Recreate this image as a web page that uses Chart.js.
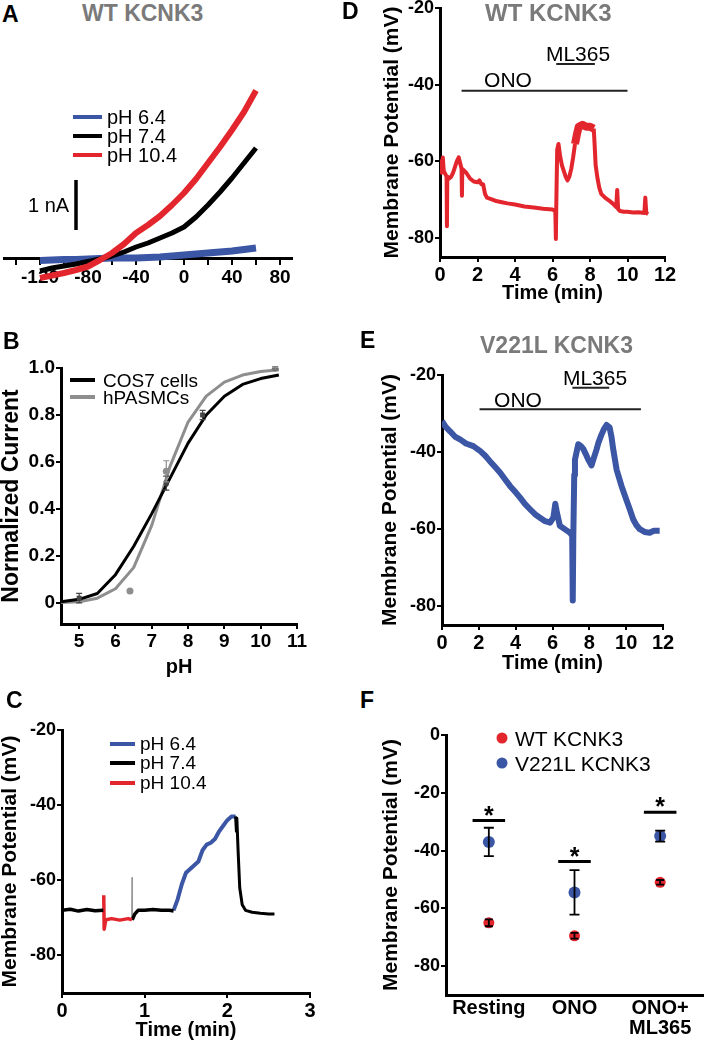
<!DOCTYPE html>
<html><head><meta charset="utf-8">
<script src="https://cdn.jsdelivr.net/npm/chart.js@4.4.1/dist/chart.umd.min.js"></script>
<style>
html,body{margin:0;padding:0;background:#fff;}
body{width:709px;height:1042px;position:relative;overflow:hidden;font-family:'Liberation Sans',Arial,Helvetica,sans-serif;}
canvas{position:absolute;}
.t{position:absolute;white-space:nowrap;line-height:1;color:#000;transform:translateY(-50%);}
.c{transform:translate(-50%,-50%);}
.sw{position:absolute;height:4px;transform:translateY(-50%);}
.dot{position:absolute;border-radius:50%;transform:translate(-50%,-50%);}
</style></head><body>
<canvas id="cA" width="305" height="265" style="left:0;top:40px"></canvas>
<canvas id="cB" width="315" height="330" style="left:0;top:350px"></canvas>
<canvas id="cC" width="325" height="330" style="left:0;top:712px"></canvas>
<canvas id="cD" width="340" height="317" style="left:340px;top:-12px"></canvas>
<canvas id="cE" width="340" height="330" style="left:340px;top:350px"></canvas>
<canvas id="cF" width="369" height="327" style="left:340px;top:715px"></canvas>
<script>
// ---------- DATA ----------
// Panel A: I-V curves (mV, nA)
const ivVoltage = [-120,-110,-100,-90,-80,-70,-60,-50,-40,-30,-20,-10,0,10,20,30,40,50,60];
const ivPH64  = [-0.05,-0.04,-0.03,-0.03,-0.02,-0.01,0,0,0,0.01,0.02,0.04,0.06,0.08,0.1,0.12,0.14,0.17,0.2];
const ivPH74  = [-0.26,-0.2,-0.16,-0.12,-0.07,-0.02,0.04,0.12,0.22,0.3,0.4,0.5,0.62,0.82,1.06,1.32,1.6,1.9,2.2];
const ivPH104 = [-0.4,-0.35,-0.3,-0.24,-0.17,-0.04,0.1,0.28,0.5,0.66,0.84,1.06,1.3,1.58,1.9,2.22,2.56,2.92,3.35];
const ivTicks = [-140,-120,-100,-80,-60,-40,-20,0,20,40,60,80];
const ivLabelStep = 40;
const scaleBarV = -90, scaleBarI = [0.56, 1.56];

// Panel B: pH dependence
const phFit = [4.5,5,5.5,6,6.5,7,7.5,8,8.5,9,9.5,10,10.5];
const fitCOS7  = [0.005,0.015,0.04,0.12,0.24,0.38,0.53,0.68,0.8,0.88,0.93,0.955,0.97];
const fitHPASMC= [0.002,0.005,0.02,0.06,0.15,0.33,0.58,0.77,0.88,0.94,0.97,0.985,0.993];
const cosPH = [5,7.4,8.4,10.4], cosMean = [0.02,0.51,0.8,1.0], cosErr = [0.02,0.03,0.02,0.005];
const hpPH = [6.4,7.4,10.4], hpMean = [0.05,0.56,1.0], hpErr = [0.005,0.045,0.005];
const phTicks = [5,6,7,8,9,10,11];
const normTicks = [0,0.2,0.4,0.6,0.8,1.0];

// Panel C: membrane potential vs time (min, mV)
const cBlack1 = [[0,-68],[0.1,-67.7],[0.2,-68.2],[0.3,-67.8],[0.4,-68.1],[0.5,-68]];
const cRed    = [[0.505,-64],[0.51,-73],[0.53,-70.5],[0.6,-70.2],[0.7,-70.6],[0.8,-70.2],[0.845,-70.5]];
const cSpike  = [[0.845,-70.5],[0.847,-59.3],[0.85,-70.5]];
const cBlack2 = [[0.85,-70.5],[0.88,-69],[0.92,-68],[1.0,-68],[1.1,-67.8],[1.2,-68],[1.3,-68],[1.35,-68.2]];
const cBlue   = [[1.35,-68],[1.4,-65],[1.45,-61],[1.5,-58],[1.55,-57],[1.6,-56],[1.65,-55],[1.7,-52],[1.75,-50.5],[1.8,-50],[1.85,-49],[1.9,-47],[1.95,-45.5],[2.0,-44],[2.05,-43],[2.1,-43]];
const cBlack3 = [[2.1,-43],[2.11,-47],[2.115,-43.5],[2.13,-52],[2.15,-62],[2.18,-66.5],[2.22,-68],[2.3,-68.5],[2.4,-68.8],[2.5,-69],[2.57,-69]];
const cTimeTicks = [0,1,2,3];
const mpTicksC = [-20,-40,-60,-80];

// Panel D: WT KCNK3 (three stretches of one recording)
const dTrace1 = [[0,-62],[0.05,-60],[0.1,-63],[0.15,-59],[0.2,-62.5],[0.3,-63.5],[0.35,-64],[0.37,-77],[0.39,-64],[0.5,-64.5],[0.6,-64],[0.7,-63],[0.8,-61.5],[0.9,-60],[1.0,-59],[1.1,-61],[1.15,-62],[1.17,-69],[1.19,-62],[1.4,-63],[1.6,-64.5],[1.8,-65.3],[2.0,-65.5],[2.1,-65],[2.2,-66],[2.3,-66],[2.4,-68.5],[2.5,-69.5],[2.8,-70],[3.0,-70.4],[3.3,-70.7],[3.6,-71],[4.0,-71.3],[4.5,-71.8],[5.0,-72.1],[5.5,-72.4],[6.0,-72.6],[6.15,-73],[6.18,-80.3],[6.2,-72],[6.25,-57],[6.32,-55.5],[6.4,-58.5],[6.5,-61],[6.6,-62.5],[6.7,-64],[6.8,-65],[6.9,-64],[7.0,-62],[7.1,-59],[7.2,-55.5]];
const dTrace2 = [[7.2,-55.5],[7.3,-53],[7.4,-51],[7.6,-50.5],[7.8,-51],[8.0,-51],[8.2,-51.5]];
const dTrace3 = [[8.2,-51.5],[8.25,-56],[8.3,-61],[8.4,-64.5],[8.5,-67],[8.6,-68.5],[8.8,-69.5],[9.0,-70.2],[9.2,-71],[9.4,-72],[9.45,-67.5],[9.5,-72.5],[9.6,-73],[9.8,-73.2],[10.0,-73.2],[10.3,-73.4],[10.6,-73.3],[10.9,-73.5],[10.95,-69.5],[11.0,-73.5],[11.1,-73.8]];
const dONO = [1.15,10.0], dONOy = -41.6;
const dML = [6.2,8.26], dMLy = -34.6;

// Panel E: V221L KCNK3
const eTrace = [[0,-32],[0.2,-33.5],[0.45,-34.7],[0.7,-36],[1.0,-36.8],[1.3,-37.8],[1.7,-38.5],[2.08,-39.8],[2.35,-41],[2.6,-42.4],[2.9,-44],[3.16,-45.4],[3.45,-47.3],[3.7,-48.9],[4.0,-50.5],[4.24,-51.9],[4.5,-53.5],[4.78,-54.9],[5.05,-56.2],[5.32,-57.1],[5.6,-58],[5.87,-58.4],[6.05,-57],[6.15,-53.5],[6.25,-56],[6.4,-59.2],[6.7,-60.2],[6.95,-61],[7.07,-61.8],[7.1,-78.6],[7.13,-62],[7.18,-46],[7.22,-42],[7.4,-38],[7.55,-38.5],[7.67,-39.2],[7.8,-40.5],[7.94,-42],[8.12,-43.5],[8.25,-41.5],[8.39,-39.4],[8.5,-37.5],[8.66,-35.5],[8.8,-34],[8.94,-33],[9.1,-33.6],[9.2,-36],[9.3,-39.4],[9.48,-44.6],[9.75,-48.9],[10.0,-52.3],[10.2,-55],[10.38,-57.5],[10.55,-59],[10.74,-60.1],[11.0,-60.8],[11.28,-61],[11.5,-60.5],[11.82,-60.5]];
const eONO = [2.04,10.8], eONOy = -28.9;
const eML = [7.08,9.08], eMLy = -23.3;
const minTicks = [0,2,4,6,8,10,12];
const mpTicksDE = [-20,-40,-60,-80];

// Panel F: summary
const fCategories = ['Resting','ONO',['ONO+','ML365']];
const fWT = [-65,-69.5,-51], fWTerr = [1.2,1.0,0.8];
const fV221L = [-37,-54.5,-35], fV221Lerr = [4.9,7.7,1.9];
const fSig = [-29.6,-43.8,-26.7];
const fTicks = [0,-20,-40,-60,-80];

// ---------- STYLE ----------
const FONT = "'Liberation Sans', Arial, Helvetica, sans-serif";
const RED = '#e3262d', BLUE = '#3b56a5', GRAYT = '#7a7a7a', GRAYC = '#8e8e8e';
Chart.defaults.font.family = FONT;
Chart.defaults.animation = false;
Chart.defaults.events = [];
Chart.defaults.plugins.legend.display = false;
Chart.defaults.plugins.tooltip.enabled = false;

const pairs = a => a.map(p => ({x:p[0], y:p[1]}));
const zip = (xs, ys) => xs.map((x,i) => ({x, y:ys[i]}));
function line(data, color, w, order){ return {data, borderColor:color, backgroundColor:color, borderWidth:w, pointRadius:0, showLine:true, tension:0, borderJoinStyle:'round', order:order||0}; }

function yAxis(o){ return {
  type:'linear', min:o.min, max:o.max,
  afterBuildTicks: s => { s.ticks = o.ticks.map(v => ({value:v})); },
  afterFit: s => { s.width = o.width; },
  border:{display:true, color:'#000', width:3},
  grid:{drawOnChartArea:false, drawTicks:true, tickLength:5, color:'#000', lineWidth:2},
  ticks:{color:'#000', padding:1, font:{size:o.tickSize||18, weight:'bold'}, callback:o.cb || (v => String(v))},
  title:{display:true, text:o.title, color:'#000', padding:0, font:{size:o.titleSize||21, weight:'bold', lineHeight:1}}
};}
function xAxis(o){ return {
  type:'linear', min:o.min, max:o.max,
  afterBuildTicks: s => { s.ticks = o.ticks.map(v => ({value:v})); },
  afterFit: s => { s.height = o.height; },
  border:{display:true, color:'#000', width:3},
  grid:{display:o.grid!==false, drawOnChartArea:false, drawTicks:o.grid!==false, tickLength:5, color:'#000', lineWidth:2},
  ticks:{color:'#000', padding:3, maxRotation:0, autoSkip:false, font:{size:o.tickSize||19, weight:'bold', lineHeight:1.0}, callback:o.cb || (v => String(v))},
  title:{display:!!o.title, text:o.title, color:'#000', padding:0, font:{size:20, weight:'bold', lineHeight:1}}
};}

// error bars + significance stars
const extras = {
  id:'extras',
  afterDatasetsDraw(chart){
    const ctx = chart.ctx, ys = chart.scales.y;
    chart.data.datasets.forEach((ds, di) => {
      if (!ds.errors) return;
      const meta = chart.getDatasetMeta(di);
      ctx.save(); ctx.strokeStyle = ds.errColor || '#000'; ctx.lineWidth = ds.errWidth || 1.5;
      meta.data.forEach((pt, i) => {
        const v = ds.data[i].y, e = ds.errors[i];
        const y1 = ys.getPixelForValue(v + e), y2 = ys.getPixelForValue(v - e), c = ds.capW || 4;
        ctx.beginPath();
        ctx.moveTo(pt.x, y1); ctx.lineTo(pt.x, y2);
        ctx.moveTo(pt.x - c, y1); ctx.lineTo(pt.x + c, y1);
        ctx.moveTo(pt.x - c, y2); ctx.lineTo(pt.x + c, y2);
        ctx.stroke();
      });
      ctx.restore();
    });
    const st = chart.options.plugins.extras && chart.options.plugins.extras.stars;
    if (st) {
      ctx.save(); ctx.fillStyle = '#000'; ctx.font = 'bold 25px ' + FONT; ctx.textAlign = 'center'; ctx.textBaseline = 'alphabetic';
      st.forEach(s => ctx.fillText('*', chart.scales.x.getPixelForValue(s.x), ys.getPixelForValue(s.y) + 3));
      ctx.restore();
    }
  }
};
Chart.register(extras);

// ---------- PANEL A ----------
new Chart(document.getElementById('cA'), {
  type:'scatter',
  data:{datasets:[
    line(zip(ivVoltage, ivPH104), RED, 6, 0),
    line(zip(ivVoltage, ivPH74), '#000', 5, 1),
    line(zip(ivVoltage, ivPH64), BLUE, 7, 2),
    line([{x:scaleBarV,y:scaleBarI[0]},{x:scaleBarV,y:scaleBarI[1]}], '#000', 3.5, 0)
  ]},
  options:{responsive:false, layout:{padding:{left:4,right:13,top:18,bottom:22}},
    scales:{
      x:{type:'linear', min:-150, max:90, position:{y:0},
        afterBuildTicks: s => { s.ticks = ivTicks.map(v => ({value:v})); },
        border:{display:true,color:'#000',width:3},
        grid:{drawOnChartArea:false, drawTicks:true, tickLength:5, color:'#000', lineWidth:2},
        ticks:{color:'#000', padding:3, maxRotation:0, autoSkip:false, font:{size:19, weight:'bold'}, callback:v => (v % ivLabelStep === 0 ? String(v) : '')}},
      y:{type:'linear', min:-0.5, max:4, display:false}
    }}
});

// ---------- PANEL B ----------
new Chart(document.getElementById('cB'), {
  type:'scatter',
  data:{datasets:[
    line(zip(phFit, fitCOS7), '#000', 3, 1),
    line(zip(phFit, fitHPASMC), GRAYC, 3, 2),
    {data:zip(cosPH, cosMean), showLine:false, pointStyle:'rect', pointRadius:3.5, backgroundColor:'#444', borderWidth:0, errors:cosErr, errColor:'#444', errWidth:1.2, capW:3, order:0},
    {data:zip(hpPH, hpMean), showLine:false, pointStyle:'circle', pointRadius:3.5, backgroundColor:GRAYC, borderWidth:0, errors:hpErr, errColor:GRAYC, errWidth:1.2, capW:3, order:0}
  ]},
  options:{responsive:false, layout:{padding:{left:0,right:18,top:18,bottom:3}},
    scales:{
      x:xAxis({min:4.5, max:11, ticks:phTicks, height:53, title:'pH', tickSize:19}),
      y:yAxis({min:-0.09, max:1.0, ticks:normTicks, width:61, title:'Normalized Current', titleSize:23, tickSize:19, cb:v => (v === 0 ? '0' : v.toFixed(1))})
    }}
});

// ---------- PANEL C ----------
new Chart(document.getElementById('cC'), {
  type:'scatter',
  data:{datasets:[
    line(pairs(cBlack1), '#000', 3.5, 1),
    line(pairs(cRed), RED, 3.5, 1),
    line(pairs(cSpike), '#999', 1.5, 2),
    line(pairs(cBlack2), '#000', 3.5, 1),
    line(pairs(cBlue), BLUE, 4, 1),
    line(pairs(cBlack3), '#000', 3, 0)
  ]},
  options:{responsive:false, layout:{padding:{left:0,right:15,top:18,bottom:2}},
    scales:{
      x:xAxis({min:0, max:3, ticks:cTimeTicks, height:47, title:'Time (min)', tickSize:20}),
      y:yAxis({min:-90, max:-20, ticks:mpTicksC, width:62, title:'Membrane Potential (mV)'})
    }}
});

// ---------- PANEL D ----------
new Chart(document.getElementById('cD'), {
  type:'scatter',
  data:{datasets:[
    line(pairs(dTrace1), RED, 4, 1),
    line(pairs(dTrace2), RED, 8, 1),
    line(pairs(dTrace3), RED, 4, 1),
    line([{x:dONO[0],y:dONOy},{x:dONO[1],y:dONOy}], '#222', 2, 0),
    line([{x:dML[0],y:dMLy},{x:dML[1],y:dMLy}], '#222', 2, 0)
  ]},
  options:{responsive:false, layout:{padding:{left:41.5,right:15,top:20,bottom:2}},
    scales:{
      x:xAxis({min:0, max:12, ticks:minTicks, height:46, title:'Time (min)', tickSize:20}),
      y:yAxis({min:-85, max:-20, ticks:mpTicksDE, width:58.5, title:'Membrane Potential (mV)'})
    }}
});

// ---------- PANEL E ----------
new Chart(document.getElementById('cE'), {
  type:'scatter',
  data:{datasets:[
    line(pairs(eTrace), BLUE, 6, 1),
    line([{x:eONO[0],y:eONOy},{x:eONO[1],y:eONOy}], '#222', 2, 0),
    line([{x:eML[0],y:eMLy},{x:eML[1],y:eMLy}], '#222', 2, 0)
  ]},
  options:{responsive:false, layout:{padding:{left:39.5,right:17,top:25,bottom:7}},
    scales:{
      x:xAxis({min:0, max:12, ticks:minTicks, height:48, title:'Time (min)', tickSize:20}),
      y:yAxis({min:-85, max:-20, ticks:mpTicksDE, width:62.5, title:'Membrane Potential (mV)'})
    }}
});

// ---------- PANEL F ----------
const fIdx = fCategories.map((c,i) => i);
new Chart(document.getElementById('cF'), {
  type:'scatter',
  data:{datasets:[
    {data:zip(fIdx, fV221L), showLine:false, pointRadius:6, backgroundColor:BLUE, borderWidth:0, errors:fV221Lerr, capW:5, errWidth:1.8, order:1},
    {data:zip(fIdx, fWT), showLine:false, pointRadius:5.5, backgroundColor:RED, borderWidth:0, errors:fWTerr, capW:4, errWidth:1.8, order:1},
    ...fSig.map((s,i) => line([{x:i-0.19,y:s},{x:i+0.19,y:s}], '#000', 3, 0))
  ]},
  options:{responsive:false, layout:{padding:{left:40.5,right:1,top:20,bottom:0}},
    plugins:{extras:{stars:fSig.map((s,i) => ({x:i, y:s}))}},
    scales:{
      x:xAxis({min:-0.5, max:2.5, ticks:fIdx, height:47, grid:false, tickSize:20, cb:(v) => fCategories[v]}),
      y:yAxis({min:-90, max:0, ticks:fTicks, width:65.5, title:'Membrane Potential (mV)'})
    }}
});

// ---------- HTML TEXT ----------
function T(text, x, y, size, weight, color, center){
  const d = document.createElement('div');
  d.className = 't' + (center ? ' c' : '');
  d.textContent = text;
  d.style.left = x + 'px'; d.style.top = y + 'px';
  d.style.fontSize = size + 'px'; d.style.fontWeight = weight; d.style.color = color || '#000';
  document.body.appendChild(d);
}
function SW(x, y, w, color){
  const d = document.createElement('div'); d.className = 'sw';
  d.style.left = x + 'px'; d.style.top = y + 'px'; d.style.width = w + 'px'; d.style.background = color;
  document.body.appendChild(d);
}
function DOT(x, y, r, color){
  const d = document.createElement('div'); d.className = 'dot';
  d.style.left = x + 'px'; d.style.top = y + 'px'; d.style.width = (2*r) + 'px'; d.style.height = (2*r) + 'px'; d.style.background = color;
  document.body.appendChild(d);
}
// panel letters & titles
T('A', 2, 14, 23, 'bold'); T('WT KCNK3', 82, 13, 23, 'bold', GRAYT);
T('B', 3, 341, 23, 'bold');
T('C', 6, 700, 23, 'bold');
T('D', 342, 11, 23, 'bold'); T('WT KCNK3', 485, 13, 24, 'bold', GRAYT);
T('E', 360, 340, 23, 'bold'); T('V221L KCNK3', 480, 345, 23, 'bold', GRAYT);
T('F', 360, 700, 23, 'bold');
// panel A legend + scale bar label
SW(73, 117, 29, BLUE); T('pH 6.4', 107, 117, 20, 'normal');
SW(73, 136, 29, '#000'); T('pH 7.4', 107, 136, 20, 'normal');
SW(73, 155, 29, RED); T('pH 10.4', 107, 155, 20, 'normal');
T('1 nA', 28, 205, 20, 'normal');
// panel B legend
SW(70, 380, 25, '#000'); T('COS7 cells', 103, 380, 19, 'normal');
SW(70, 397, 25, GRAYC); T('hPASMCs', 103, 397, 19, 'normal');
// panel C legend
SW(110, 744, 25, BLUE); T('pH 6.4', 140, 743, 19, 'normal');
SW(110, 763, 25, '#000'); T('pH 7.4', 140, 762, 19, 'normal');
SW(110, 783, 25, RED); T('pH 10.4', 140, 782, 19, 'normal');
// D / E drug labels
T('ONO', 508, 79, 21, 'normal', '#000', true); T('ML365', 578, 53, 21, 'normal', '#000', true);
T('ONO', 518, 399, 21, 'normal', '#000', true); T('ML365', 595, 377, 21, 'normal', '#000', true);
// F legend
DOT(502, 738, 5.5, RED); T('WT KCNK3', 515, 738, 21, 'normal');
DOT(502, 763, 5.5, BLUE); T('V221L KCNK3', 515, 763, 21, 'normal');
</script>
</body></html>
